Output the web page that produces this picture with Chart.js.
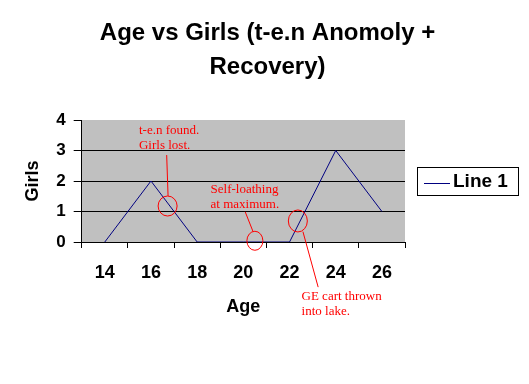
<!DOCTYPE html>
<html>
<head>
<meta charset="utf-8">
<script src="https://cdn.jsdelivr.net/npm/chart.js@4.4.0/dist/chart.umd.min.js"></script>
<style>
  html, body { margin: 0; padding: 0; background: #fff; }
  #wrap { width: 529px; height: 384px; position: relative; }
</style>
</head>
<body>
<div id="wrap"><canvas id="chart"></canvas></div>
<script>
// chart values
const ages = ['14', '16', '18', '20', '22', '24', '26'];
const girls = [0, 2, 0, 0, 0, 3, 1];
const yMin = 0;
const yMax = 4;
const yStep = 1;
const titleLines = ['Age vs Girls (t-e.n Anomoly +', 'Recovery)'];
const seriesName = 'Line 1';

// hand drawn notes, anchored in data units (x = category index, y = girls)
const noteTexts = [
    ['t-e.n found.', 'Girls lost.'],
    ['Self-loathing', 'at maximum.'],
    ['GE cart thrown', 'into lake.']
];
const noteTextAt = [[0.74, 3.64], [2.29, 1.71], [4.26, -1.80]];
const noteLineFrom = [[1.34, 2.85], [3.04, 0.99], [4.29, 0.34]];
const noteLineTo = [[1.37, 1.51], [3.21, 0.34], [4.62, -1.48]];
const noteCircleAt = [[1.36, 1.18], [3.25, 0.04], [4.18, 0.69]];
const noteCircleSize = [[9.5, 10], [8, 9.5], [9.5, 11]];

const NAVY = '#000080';
const RED = '#ff0000';

Chart.defaults.font.family = "'Liberation Sans', Arial, sans-serif";
Chart.defaults.color = '#000';

// grey plot area like the old spreadsheet chart
const plotBg = {
    id: 'plotBg',
    beforeDraw(chart) {
        const { ctx, chartArea: a } = chart;
        ctx.save();
        ctx.fillStyle = '#c0c0c0';
        ctx.fillRect(a.left, a.top, a.width, a.height);
        ctx.restore();
    }
};

// boxed legend on the right
const boxLegend = {
    id: 'boxLegend',
    afterDraw(chart) {
        const { ctx, chartArea: a } = chart;
        const ds = chart.data.datasets[0];
        const cy = (a.top + a.bottom) / 2;
        const left = a.right + 12;
        ctx.save();
        ctx.strokeStyle = '#000';
        ctx.lineWidth = 1;
        ctx.strokeRect(Math.round(left) + 0.5, Math.round(cy - 14) + 0.5, 101, 28);
        ctx.strokeStyle = ds.borderColor;
        ctx.beginPath();
        ctx.moveTo(left + 7, Math.round(cy + 2) + 0.5);
        ctx.lineTo(left + 33, Math.round(cy + 2) + 0.5);
        ctx.stroke();
        ctx.fillStyle = '#000';
        ctx.font = "bold 19px 'Liberation Sans', Arial, sans-serif";
        ctx.textBaseline = 'middle';
        ctx.fillText(ds.label, left + 36, cy + 1);
        ctx.restore();
    }
};

// red notes, lines and circles
const notes = {
    id: 'notes',
    afterDraw(chart) {
        const { ctx } = chart;
        const xs = chart.scales.x, ys = chart.scales.y;
        const px = v => xs.getPixelForValue(v);
        const py = v => ys.getPixelForValue(v);
        ctx.save();
        ctx.strokeStyle = RED;
        ctx.fillStyle = RED;
        ctx.lineWidth = 1;
        ctx.font = "13px 'Liberation Serif', 'Times New Roman', serif";
        ctx.textBaseline = 'middle';
        noteTexts.forEach((lines, i) => {
            const tx = px(noteTextAt[i][0]), ty = py(noteTextAt[i][1]);
            lines.forEach((t, j) => ctx.fillText(t, tx, ty + j * 15));
            ctx.beginPath();
            ctx.moveTo(px(noteLineFrom[i][0]), py(noteLineFrom[i][1]));
            ctx.lineTo(px(noteLineTo[i][0]), py(noteLineTo[i][1]));
            ctx.stroke();
            ctx.beginPath();
            ctx.ellipse(px(noteCircleAt[i][0]), py(noteCircleAt[i][1]),
                noteCircleSize[i][0], noteCircleSize[i][1], 0, 0, Math.PI * 2);
            ctx.stroke();
        });
        ctx.restore();
    }
};

new Chart(document.getElementById('chart'), {
    type: 'line',
    data: {
        labels: ages,
        datasets: [{
            label: seriesName,
            data: girls,
            borderColor: NAVY,
            backgroundColor: NAVY,
            borderWidth: 1,
            pointRadius: 0,
            tension: 0,
            fill: false
        }]
    },
    options: {
        responsive: true,
        maintainAspectRatio: false,
        animation: false,
        layout: { padding: { left: 6, right: 0, top: 0, bottom: 0 } },
        plugins: {
            legend: { display: false },
            tooltip: { enabled: false },
            title: {
                display: true,
                text: titleLines,
                color: '#000',
                font: { size: 24, weight: 'bold', lineHeight: 34 / 24 },
                padding: { top: 16, bottom: 36 }
            }
        },
        scales: {
            x: {
                offset: true,
                grid: { offset: true, drawOnChartArea: false, color: '#000', tickLength: 6 },
                border: { color: '#000' },
                ticks: { color: '#000', font: { size: 18, weight: 'bold' }, padding: 14, autoSkip: false, maxRotation: 0 },
                title: { display: true, text: 'Age', color: '#000', font: { size: 18, weight: 'bold' }, padding: { top: 0, bottom: 66 } },
                afterFit(axis) { axis.height = 142; }
            },
            y: {
                min: yMin,
                max: yMax,
                grid: {
                    color: c => (c.tick && c.tick.value === yMax) ? 'rgba(0,0,0,0)' : '#000',
                    tickColor: '#000',
                    tickLength: 8
                },
                border: { color: '#000' },
                ticks: { stepSize: yStep, color: '#000', font: { size: 17, weight: 'bold' }, padding: 8 },
                title: { display: true, text: 'Girls', color: '#000', font: { size: 18, weight: 'bold' }, padding: { top: 16, bottom: 4 } },
                afterFit(axis) { axis.width = 75.7; }
            },
            // empty axis only keeps room on the right for the legend box
            side: {
                type: 'linear',
                position: 'right',
                display: true,
                grid: { display: false },
                border: { display: false },
                ticks: { display: false },
                afterFit(axis) { axis.width = 124; }
            }
        }
    },
    plugins: [plotBg, boxLegend, notes]
});
</script>
</body>
</html>
